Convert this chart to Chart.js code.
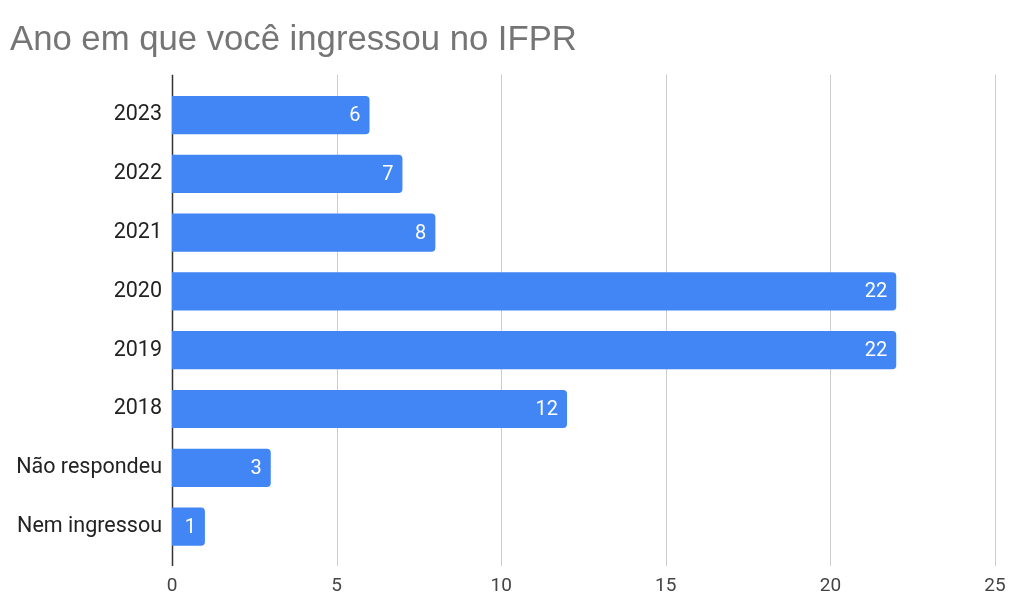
<!DOCTYPE html>
<html>
<head>
<meta charset="utf-8">
<script src="https://cdn.jsdelivr.net/npm/chart.js@4.4.1/dist/chart.umd.min.js"></script>
<style>
  html, body { margin: 0; padding: 0; background: #fff; }
  #wrap { width: 1010px; height: 597px; }
</style>
</head>
<body>
<div id="wrap"><canvas id="chart" width="1010" height="597"></canvas></div>
<script>
// Ano em que você ingressou no IFPR
const categories = ['2023', '2022', '2021', '2020', '2019', '2018', 'Não respondeu', 'Nem ingressou'];
const respostas = [6, 7, 8, 22, 22, 12, 3, 1];
const xTicks = [0, 5, 10, 15, 20, 25];

const BAR_BLUE = '#4285F4';

// gridlines run a bit past the bars, like the Sheets export
const gridPlugin = {
  id: 'sheetGrid',
  beforeDatasetsDraw(chart) {
    const { ctx, chartArea, scales } = chart;
    const top = chartArea.top - 11;
    const bottom = chartArea.bottom + 10;
    ctx.save();
    xTicks.forEach(v => {
      const x = Math.round(scales.x.getPixelForValue(v)) + 0.5;
      ctx.beginPath();
      ctx.strokeStyle = v === 0 ? '#333333' : '#cccccc';
      ctx.lineWidth = v === 0 ? 1.5 : 1;
      ctx.moveTo(x, top);
      ctx.lineTo(x, bottom);
      ctx.stroke();
    });
    ctx.restore();
  }
};

// white value labels at the end of each bar
const valueLabels = {
  id: 'valueLabels',
  afterDatasetsDraw(chart) {
    const { ctx } = chart;
    const meta = chart.getDatasetMeta(0);
    ctx.save();
    ctx.fillStyle = '#ffffff';
    ctx.font = '20px Roboto';
    ctx.textAlign = 'right';
    ctx.textBaseline = 'middle';
    meta.data.forEach((bar, i) => {
      ctx.fillText(String(respostas[i]), bar.x - 9, bar.y + 1);
    });
    ctx.restore();
  }
};

new Chart(document.getElementById('chart'), {
  type: 'bar',
  data: {
    labels: categories,
    datasets: [{
      data: respostas,
      backgroundColor: BAR_BLUE,
      borderRadius: 4,
      borderSkipped: 'start',
      categoryPercentage: 1,
      barPercentage: 0.65
    }]
  },
  options: {
    indexAxis: 'y',
    responsive: false,
    animation: false,
    layout: { padding: { left: 10, right: 15, top: 0, bottom: 0 } },
    plugins: {
      legend: { display: false },
      tooltip: { enabled: false },
      title: {
        display: true,
        text: 'Ano em que você ingressou no IFPR',
        align: 'start',
        color: '#757575',
        font: { family: 'Liberation Sans', size: 34.7, weight: 'normal' },
        padding: { top: 20, bottom: 24 }
      }
    },
    scales: {
      x: {
        min: 0,
        max: 25,
        afterBuildTicks: scale => { scale.ticks = xTicks.map(v => ({ value: v })); },
        afterFit: scale => {
          scale.paddingLeft = 0;
          scale.paddingRight = 0;
          scale.paddingBottom = 0;
          scale.height = 41;
        },
        grid: { display: false, drawTicks: false },
        border: { display: false },
        ticks: {
          color: '#444444',
          font: { family: 'Roboto', size: 19 },
          padding: 19
        }
      },
      y: {
        grid: { display: false, drawTicks: false },
        border: { display: false },
        afterFit: scale => {
          scale.width = 162;
          scale.paddingTop = 0;
          scale.paddingBottom = 0;
        },
        ticks: {
          color: '#222222',
          font: { family: 'Roboto', size: 21.5 },
          padding: 10
        }
      }
    }
  },
  plugins: [gridPlugin, valueLabels]
});
</script>
</body>
</html>
